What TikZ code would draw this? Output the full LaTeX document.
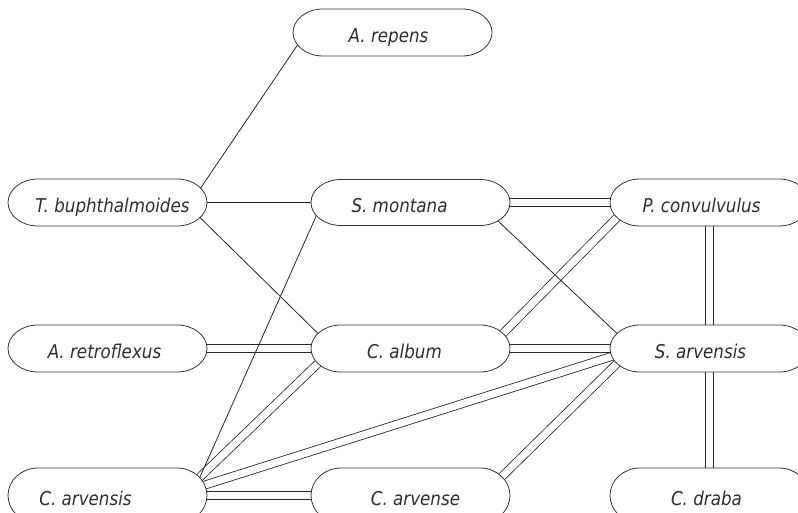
\documentclass[tikz,border=0pt]{standalone}
\usepackage{fontspec}
\newfontfamily\lblfont[FakeStretch=0.88]{DejaVu Sans}
\usetikzlibrary{backgrounds}
\tikzset{
  outl/.style={draw=black!80, line width=0.8pt, fill=white},
  txt/.style={inner sep=0pt, text height=20pt, text depth=0pt,
    font=\lblfont\itshape\fontsize{19}{21}\selectfont, text=black!82},
  link/.style={draw=black!85, line width=0.8pt, shorten <=-6pt, shorten >=-6pt},
  dlink/.style={link, double=white, double distance=7.2pt},
}
% name, x, y (downwards), half height, text, text offset
\newcommand\spnode[6]{%
  \draw[outl] (#2-69.5,-#3+#4) -- (#2+69.5,-#3+#4)
    arc[start angle=90,end angle=-90,x radius=30,y radius=#4]
    -- (#2-69.5,-#3-#4)
    arc[start angle=270,end angle=90,x radius=30,y radius=#4] -- cycle;
  \node[txt] (#1) at (#2,-#3) {\hspace*{#6pt}\hspace*{#6pt}#5};
}
\begin{document}
\begin{tikzpicture}[x=1pt,y=1pt]
\useasboundingbox (0,0) rectangle (798,-513);
\spnode{ar}{392.5}{32.5}{23.5}{A. repens}{-4}
\spnode{tb}{107.5}{202.5}{23.5}{T. buphthalmoides}{5}
\spnode{sm}{410.5}{202.5}{23}{S. montana}{-11}
\spnode{pc}{709.5}{202.5}{23.5}{P. convulvulus}{-8}
\spnode{arf}{107.5}{348.5}{23.5}{A. retroflexus}{-3}
\spnode{ca}{410.5}{348.5}{23.5}{C. album}{-6}
\spnode{sa}{709.5}{348.5}{23.5}{S. arvensis}{-9}
\spnode{cv}{107.5}{495.5}{27.5}{C. arvensis}{-22}
\spnode{ce}{410.5}{495.5}{27.5}{C. arvense}{5}
\spnode{cd}{709.5}{495.5}{27.5}{C. draba}{-3}
\begin{scope}[on background layer]
  \fill[white] (0,0) rectangle (798,-513);
  % double connectors
  \draw[dlink] (sm.center) -- (pc.center);
  \draw[dlink] (arf.center) -- (ca.center);
  \draw[dlink] (ca.center) -- (sa.center);
  \draw[dlink] (pc.center) -- (sa.center);
  \draw[dlink] (sa.center) -- (cd.center);
  \draw[dlink] (cv.center) -- (ce.center);
  \draw[dlink] ([shift={(92.5,15)}]ca.center) -- ([shift={(-92.5,-15)}]pc.center);
  \draw[dlink] ([shift={(92.5,18.5)}]cv.center) -- ([shift={(-92.5,-15)}]ca.center);
  \draw[dlink] ([shift={(97.5,10.5)}]cv.center) -- ([shift={(-98,-8)}]sa.center);
  \draw[dlink] ([shift={(92,19.5)}]ce.center) -- ([shift={(-92.5,-15)}]sa.center);
  % single connectors
  \draw[link] ([shift={(92.5,13.5)}]tb.center) -- ([shift={(-95,-12.5)}]ar.center);
  \draw[link] (tb.center) -- (sm.center);
  \draw[link] ([shift={(92.5,-15)}]tb.center) -- ([shift={(-92.5,15)}]ca.center);
  \draw[link] ([shift={(-95,-15)}]sm.center) -- ([shift={(92.5,18.5)}]cv.center);
  \draw[link] ([shift={(87,-18)}]sm.center) -- ([shift={(-92.5,15)}]sa.center);
\end{scope}
\end{tikzpicture}
\end{document}
